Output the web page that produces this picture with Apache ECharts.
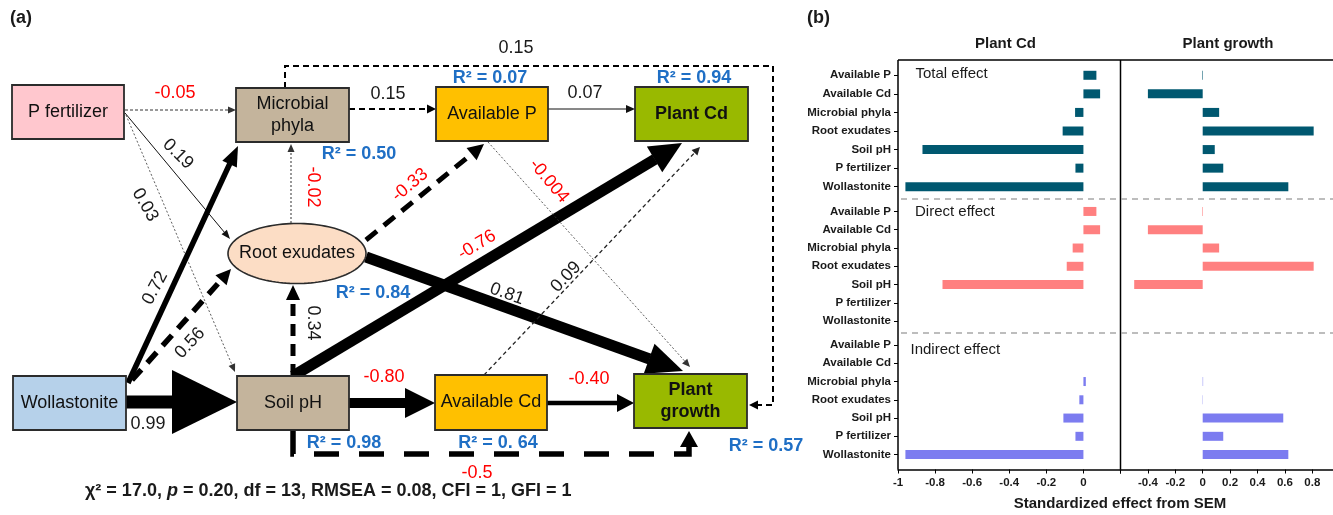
<!DOCTYPE html>
<html>
<head>
<meta charset="utf-8">
<script src="https://cdn.jsdelivr.net/npm/echarts@6/dist/echarts.min.js"></script>
<style>
  html, body { margin: 0; padding: 0; background: #fff; }
  #chart { width: 1333px; height: 515px; }
</style>
</head>
<body>
<div id="chart"></div>
<script>
// ---------- (a) structural equation model ----------
const semNodes = ['P fertilizer', 'Microbial phyla', 'Available P', 'Plant Cd', 'Root exudates',
                  'Wollastonite', 'Soil pH', 'Available Cd', 'Plant growth'];
const semFrom = ['P fertilizer', 'P fertilizer', 'P fertilizer', 'Wollastonite', 'Wollastonite',
                 'Wollastonite', 'Soil pH', 'Root exudates', 'Root exudates', 'Root exudates',
                 'Soil pH', 'Soil pH', 'Available Cd', 'Available P', 'Microbial phyla',
                 'Microbial phyla', 'Available P', 'Available Cd', 'Soil pH'];
const semTo = ['Microbial phyla', 'Root exudates', 'Soil pH', 'Microbial phyla', 'Root exudates',
               'Soil pH', 'Root exudates', 'Microbial phyla', 'Available P', 'Plant growth',
               'Plant Cd', 'Available Cd', 'Plant growth', 'Plant Cd', 'Available P',
               'Plant growth', 'Plant growth', 'Plant Cd', 'Plant growth'];
const semCoef = [-0.05, 0.19, 0.03, 0.72, 0.56, 0.99, 0.34, -0.02, -0.33, 0.81,
                 -0.76, -0.80, -0.40, 0.07, 0.15, 0.15, -0.004, 0.09, -0.5];
const semCoefDigits = [2, 2, 2, 2, 2, 2, 2, 2, 2, 2, 2, 2, 2, 2, 2, 2, 3, 2, 1];
const r2Nodes = ['Microbial phyla', 'Available P', 'Plant Cd', 'Root exudates', 'Soil pH', 'Available Cd', 'Plant growth'];
const r2Text = ['0.50', '0.07', '0.94', '0.84', '0.98', '0. 64', '0.57'];

// ---------- (b) standardized effects from SEM ----------
const effectNames = ['Available P', 'Available Cd', 'Microbial phyla', 'Root exudates', 'Soil pH', 'P fertilizer', 'Wollastonite'];
const totalPlantCd       = [0.07, 0.09, -0.045, -0.112, -0.868, -0.043, -0.96];
const totalPlantGrowth   = [-0.004, -0.40, 0.12, 0.81, 0.088, 0.15, 0.625];
const directPlantCd      = [0.07, 0.09, -0.058, -0.09, -0.76, 0, 0];
const directPlantGrowth  = [-0.004, -0.40, 0.12, 0.81, -0.50, 0, 0];
const indirectPlantCd    = [0, 0, 0.013, -0.022, -0.108, -0.043, -0.96];
const indirectPlantGrowth = [0, 0, 0.003, 0.002, 0.588, 0.15, 0.625];

// ---------- layout & styling ----------
const FONT = "'Liberation Sans', Arial, Helvetica, sans-serif";
const RED = '#FF0000', BLUE = '#1F6FC5', INK = '#1a1a1a';

// node boxes in diagram units: centre x, centre y, width, height
const nodeBox = {
  'P fertilizer':    { cx: 68,    cy: 112,   w: 112, h: 54, fill: '#FFC7CE' },
  'Microbial phyla': { cx: 292.5, cy: 115,   w: 113, h: 54, fill: '#C4B49C' },
  'Available P':     { cx: 492,   cy: 114,   w: 112, h: 54, fill: '#FFC000' },
  'Plant Cd':        { cx: 691.5, cy: 114,   w: 113, h: 54, fill: '#99B900', bold: true },
  'Root exudates':   { cx: 297,   cy: 253.5, w: 138, h: 60, fill: '#FCDDC5', ellipse: true },
  'Wollastonite':    { cx: 69.5,  cy: 403,   w: 113, h: 54, fill: '#B6D1EA' },
  'Soil pH':         { cx: 293,   cy: 403,   w: 112, h: 54, fill: '#C4B49C' },
  'Available Cd':    { cx: 491,   cy: 402.5, w: 112, h: 55, fill: '#FFC000' },
  'Plant growth':    { cx: 690.5, cy: 401,   w: 113, h: 54, fill: '#99B900', bold: true }
};
const nodeWrap = { 'Microbial phyla': 'Microbial\nphyla', 'Plant growth': 'Plant\ngrowth' };

// routes of each path (waypoints, last one is the arrow tip)
const pathRoute = [
  [[125, 110], [236, 110]],
  [[125, 113], [230, 239]],
  [[126, 115], [235, 372]],
  [[128, 383], [238, 146]],
  [[132, 380], [231, 269]],
  [[126, 402], [237, 402]],
  [[293, 376], [293, 285]],
  [[291, 223], [291, 144]],
  [[366, 240], [484, 144]],
  [[366, 257], [683, 371]],
  [[293, 376], [682, 143]],
  [[349, 403], [435, 403]],
  [[547, 403], [634, 403]],
  [[548, 109], [635, 109]],
  [[349, 109], [436, 109]],
  [[285, 88], [285, 66], [773, 66], [773, 405], [749, 405]],
  [[488, 142], [690, 367]],
  [[484, 375], [700, 147]],
  [[293, 430], [293, 454], [689, 454], [689, 431]]
];
// line width, dash pattern, arrow head length, arrow head half width, colour
const pathStyle = [
  [1, [3, 2], 8, 3.5, '#333'],
  [1, null, 9, 3.5, '#111'],
  [0.8, [2, 2], 8, 3.5, '#333'],
  [5.5, null, 20, 8, '#000'],
  [5.5, [14, 9], 15, 7.5, '#000'],
  [13, null, 65, 32, '#000'],
  [5, [12, 8], 15, 7, '#000'],
  [1, [2, 2], 8, 3.5, '#333'],
  [5, [14, 9], 16, 8, '#000'],
  [11, null, 36, 16, '#000'],
  [11, null, 32, 15, '#000'],
  [10, null, 30, 15, '#000'],
  [4.5, null, 17, 9, '#000'],
  [1, null, 9, 4, '#111'],
  [2, [6, 4], 9, 4.5, '#000'],
  [2, [6, 4], 9, 4.5, '#000'],
  [0.8, [2, 2], 8, 3.5, '#333'],
  [1.3, [4, 3], 8, 4, '#222'],
  [5.5, [25, 20], 16, 9, '#000']
];
// coefficient label position and rotation (degrees)
const pathLabelPos = [
  [175, 93, 0], [178, 154, -45], [145, 205, -60], [155, 288, 62], [190, 343, 47],
  [148, 424, 0], [313, 323, -90], [313, 187, -90], [410, 185, 40], [507, 294, -20],
  [477, 245, 31], [384, 377, 0], [589, 379, 0], [585, 93, 0], [388, 94, 0],
  [516, 48, 0], [549, 181, -50], [566, 277, 46], [477, 473, 0]
];
const r2Pos = {
  'Microbial phyla': [359, 154], 'Available P': [490, 78], 'Plant Cd': [694, 78],
  'Root exudates': [373, 293], 'Soil pH': [344, 443], 'Available Cd': [498, 443],
  'Plant growth': [766, 446]
};

// ---------- render helpers for the path diagram ----------
function renderPath(params, api) {
  const i = params.dataIndex;
  const st = pathStyle[i];
  const pts = pathRoute[i].map(p => api.coord(p));
  const n = pts.length;
  const tip = pts[n - 1], prev = pts[n - 2];
  let dx = tip[0] - prev[0], dy = tip[1] - prev[1];
  const L = Math.hypot(dx, dy); dx /= L; dy /= L;
  const base = [tip[0] - dx * st[2], tip[1] - dy * st[2]];
  const shaft = pts.slice(0, n - 1).concat([[base[0] + dx * 0.5, base[1] + dy * 0.5]]);
  const px = -dy, py = dx, hw = st[3];
  const head = [tip, [base[0] + px * hw, base[1] + py * hw], [base[0] - px * hw, base[1] - py * hw]];
  return {
    type: 'group',
    children: [
      { type: 'polyline', shape: { points: shaft },
        style: { stroke: st[4], lineWidth: st[0], lineDash: st[1], fill: null, lineCap: 'butt', lineJoin: 'miter' } },
      { type: 'polygon', shape: { points: head }, style: { fill: st[4] } }
    ]
  };
}

function renderPathLabel(params, api) {
  const i = params.dataIndex;
  const v = semCoef[i];
  const pos = pathLabelPos[i];
  const c = api.coord([pos[0], pos[1]]);
  return {
    type: 'text', x: c[0], y: c[1], rotation: pos[2] * Math.PI / 180,
    style: { text: v.toFixed(semCoefDigits[i]), font: '18px ' + FONT, fill: v < 0 ? RED : INK,
             align: 'center', verticalAlign: 'middle' }
  };
}

function renderNode(params, api) {
  const name = semNodes[params.dataIndex];
  const b = nodeBox[name];
  const c = api.coord([b.cx, b.cy]);
  const s = api.size([b.w, b.h]);
  const w = s[0], h = s[1];
  let body;
  if (b.ellipse) {
    const pts = [];
    for (let k = 0; k < 120; k++) {
      const t = k / 120 * 2 * Math.PI;
      pts.push([c[0] + w / 2 * Math.cos(t), c[1] + h / 2 * Math.sin(t)]);
    }
    body = { type: 'polygon', shape: { points: pts }, style: { fill: b.fill, stroke: '#2b2b2b', lineWidth: 1.6 } };
  } else {
    body = { type: 'rect', shape: { x: c[0] - w / 2, y: c[1] - h / 2, width: w, height: h },
             style: { fill: b.fill, stroke: '#2b2b2b', lineWidth: 1.8 } };
  }
  return {
    type: 'group',
    children: [body, {
      type: 'text', x: c[0], y: c[1],
      style: { text: nodeWrap[name] || name, font: (b.bold ? 'bold ' : '') + '18px ' + FONT,
               fill: '#111', align: 'center', verticalAlign: 'middle', lineHeight: 22 }
    }]
  };
}

function renderR2(params, api) {
  const name = r2Nodes[params.dataIndex];
  const c = api.coord(r2Pos[name]);
  return {
    type: 'text', x: c[0], y: c[1],
    style: { text: 'R² = ' + r2Text[params.dataIndex], font: 'bold 18px ' + FONT, fill: BLUE,
             align: 'center', verticalAlign: 'middle' }
  };
}

// ---------- (b) grid geometry ----------
const colLeft = [898, 1120.5];
const colWidth = [222.5, 219.2];
const colRange = [[-1, 0.2], [-0.6, 1.0]];
const rowTop = [66, 202.3, 335.9];
const rowHeight = [130, 128, 127.8];
const effectSets = [
  [totalPlantCd, totalPlantGrowth, '#005870'],
  [directPlantCd, directPlantGrowth, '#FF8080'],
  [indirectPlantCd, indirectPlantGrowth, '#7C7CF0']
];

const grids = [{ left: 0, top: 0, width: 800, height: 515, outerBoundsMode: 'none' }];
const xAxes = [{ gridIndex: 0, type: 'value', min: 0, max: 800, show: false }];
const yAxes = [{ gridIndex: 0, type: 'value', min: 0, max: 515, inverse: true, show: false }];
const barSeries = [];

function tickText(v, lo, hi) {
  if (v < lo - 1e-9 || v > hi + 1e-9) return '';
  if (Math.abs(v) < 1e-9) return '0';
  return String(+v.toFixed(1));
}

for (let r = 0; r < 3; r++) {
  for (let c = 0; c < 2; c++) {
    const gi = grids.length;
    grids.push({ left: colLeft[c], top: rowTop[r], width: colWidth[c], height: rowHeight[r], outerBoundsMode: 'none' });
    const bottom = r === 2;
    xAxes.push({
      gridIndex: gi, type: 'value', min: colRange[c][0], max: colRange[c][1], interval: 0.2,
      show: bottom, position: 'bottom', offset: bottom ? 469.5 - (rowTop[r] + rowHeight[r]) : 0,
      splitLine: { show: false },
      axisLine: { show: true, onZero: false, lineStyle: { color: '#000', width: 1.5 } },
      axisTick: { show: true, length: 4, lineStyle: { color: '#000', width: 1 } },
      axisLabel: {
        margin: 7, fontFamily: FONT, fontWeight: 'bold', fontSize: 11.5, color: INK,
        showMinLabel: true, showMaxLabel: true,
        formatter: c === 0 ? (v => tickText(v, -1, 0)) : (v => tickText(v, -0.4, 0.8))
      }
    });
    yAxes.push({
      gridIndex: gi, type: 'category', inverse: true, data: effectNames,
      show: c === 0, position: 'left',
      axisLine: { show: false, onZero: false },
      axisTick: { show: true, alignWithLabel: true, length: 4, lineStyle: { color: '#000', width: 1 } },
      axisLabel: { margin: 7, fontFamily: FONT, fontWeight: 'bold', fontSize: 11.5, color: INK },
      splitLine: { show: false }
    });
    barSeries.push({
      type: 'bar', xAxisIndex: gi, yAxisIndex: gi, data: effectSets[r][c],
      barWidth: 9, itemStyle: { color: effectSets[r][2] }, silent: true
    });
  }
}

// ---------- decorations (frames, titles) ----------
const frameStroke = { stroke: '#000', lineWidth: 1.5 };
const graphic = [
  { type: 'line', shape: { x1: 898, y1: 60, x2: 1333, y2: 60 }, style: frameStroke },
  { type: 'line', shape: { x1: 898, y1: 60, x2: 898, y2: 469.5 }, style: frameStroke },
  { type: 'line', shape: { x1: 1120.5, y1: 60, x2: 1120.5, y2: 469.5 }, style: frameStroke },
  { type: 'line', shape: { x1: 901, y1: 199, x2: 1333, y2: 199 }, style: { stroke: '#A8A8A8', lineWidth: 1.5, lineDash: [6, 5] } },
  { type: 'line', shape: { x1: 901, y1: 333, x2: 1333, y2: 333 }, style: { stroke: '#A8A8A8', lineWidth: 1.5, lineDash: [6, 5] } },
  { type: 'text', x: 10, y: 18, style: { text: '(a)', font: 'bold 18px ' + FONT, fill: INK, verticalAlign: 'middle' } },
  { type: 'text', x: 807, y: 18, style: { text: '(b)', font: 'bold 18px ' + FONT, fill: INK, verticalAlign: 'middle' } },
  { type: 'text', x: 1005.5, y: 44, style: { text: 'Plant Cd', font: 'bold 15px ' + FONT, fill: INK, align: 'center', verticalAlign: 'middle' } },
  { type: 'text', x: 1228, y: 44, style: { text: 'Plant growth', font: 'bold 15px ' + FONT, fill: INK, align: 'center', verticalAlign: 'middle' } },
  { type: 'text', x: 915.5, y: 74, style: { text: 'Total effect', font: '15px ' + FONT, fill: INK, verticalAlign: 'middle' } },
  { type: 'text', x: 915, y: 212, style: { text: 'Direct effect', font: '15px ' + FONT, fill: INK, verticalAlign: 'middle' } },
  { type: 'text', x: 910.5, y: 350, style: { text: 'Indirect effect', font: '15px ' + FONT, fill: INK, verticalAlign: 'middle' } },
  { type: 'text', x: 1120, y: 504, style: { text: 'Standardized effect from SEM', font: 'bold 15px ' + FONT, fill: INK, align: 'center', verticalAlign: 'middle' } },
  { type: 'text', x: 85, y: 491, style: {
      text: '{b|χ² = 17.0, }{i|p}{b| = 0.20, df = 13, RMSEA = 0.08, CFI = 1, GFI = 1}',
      verticalAlign: 'middle',
      rich: { b: { font: 'bold 18px ' + FONT, fill: INK }, i: { font: 'italic bold 18px ' + FONT, fill: INK } }
  } }
];

const chart = echarts.init(document.getElementById('chart'), null, { renderer: 'canvas' });
chart.setOption({
  animation: false,
  backgroundColor: '#fff',
  grid: grids,
  xAxis: xAxes,
  yAxis: yAxes,
  graphic: graphic,
  series: [
    { type: 'custom', name: 'paths', xAxisIndex: 0, yAxisIndex: 0, z: 2, silent: true,
      data: pathLabelPos.map(p => [p[0], p[1]]), renderItem: renderPath },
    { type: 'custom', name: 'nodes', xAxisIndex: 0, yAxisIndex: 0, z: 3, silent: true,
      data: semNodes.map(n => [nodeBox[n].cx, nodeBox[n].cy]), renderItem: renderNode },
    { type: 'custom', name: 'coefficients', xAxisIndex: 0, yAxisIndex: 0, z: 4, silent: true,
      data: pathLabelPos.map(p => [p[0], p[1]]), renderItem: renderPathLabel },
    { type: 'custom', name: 'r2', xAxisIndex: 0, yAxisIndex: 0, z: 4, silent: true,
      data: r2Nodes.map(n => r2Pos[n]), renderItem: renderR2 }
  ].concat(barSeries)
});
</script>
</body>
</html>
